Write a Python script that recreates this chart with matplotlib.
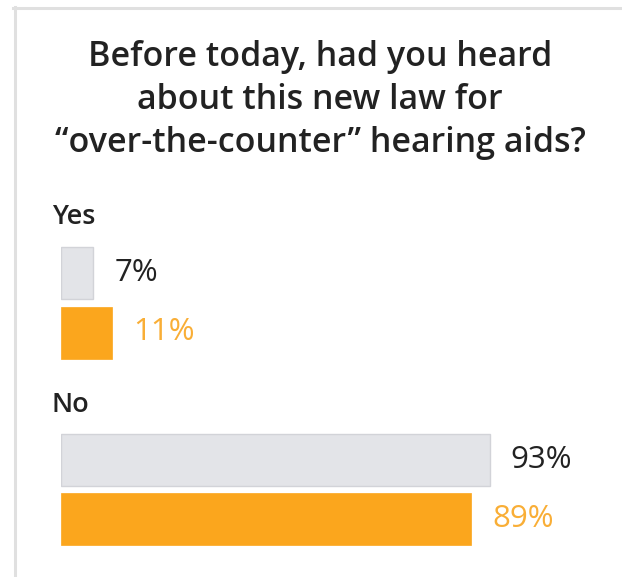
import matplotlib
matplotlib.use("Agg")
import matplotlib.pyplot as plt
from matplotlib.lines import Line2D

plt.rcParams['font.family'] = ['Open Sans', 'DejaVu Sans']

title = "Before today, had you heard\nabout this new law for\n\u201cover-the-counter\u201d hearing aids?"
groups = ["Yes", "No"]
gray_vals = [7, 93]
orange_vals = [11, 89]

gray = "#e3e4e8"
gray_edge = "#d2d3d8"
orange = "#fba61d"
orange_txt = "#f9ae36"
dark = "#222222"

W, H = 622, 577
fig = plt.figure(figsize=(W / 100, H / 100), dpi=100)
fig.patch.set_facecolor("white")

# card border (top + left)
fig.add_artist(Line2D([13 / W, 1], [1 - 7.5 / H, 1 - 7.5 / H], color="#e0e0e0", lw=2.2))
fig.add_artist(Line2D([14.5 / W, 14.5 / W], [0, 1 - 7 / H], color="#e0e0e0", lw=2.2))

fig.text(320 / W, 1 - 100 / H, title, ha="center", va="center", fontsize=24.5,
         fontweight="semibold", color=dark, linespacing=1.33)

# axes: x in percent, y in pixel rows from the top
px_per_pct = 4.61
left = 61
ax = fig.add_axes([left / W, 0, 100 * px_per_pct / W, 1])
ax.set_xlim(0, 100)
ax.set_ylim(H, 0)
ax.axis("off")

group_label_y = [217, 405]
gray_y = [273, 459.5]
orange_y = [332.5, 519]
bar_h = 52

for i, g in enumerate(groups):
    ax.text(-9 / px_per_pct, group_label_y[i], g, ha="left", va="center",
            fontsize=19.5, fontweight="semibold", color=dark)
    ax.barh(gray_y[i], gray_vals[i], height=bar_h, color=gray, edgecolor=gray_edge, lw=1)
    ax.barh(orange_y[i], orange_vals[i], height=bar_h, color=orange, edgecolor=orange, lw=0.5)
    ax.text(gray_vals[i] + 21 / px_per_pct, gray_y[i], f"{gray_vals[i]}%", ha="left",
            va="center", fontsize=22.5, color=dark)
    ax.text(orange_vals[i] + 21 / px_per_pct, orange_y[i], f"{orange_vals[i]}%", ha="left",
            va="center", fontsize=22.5, color=orange_txt)

fig.savefig("out.png", dpi=100)
